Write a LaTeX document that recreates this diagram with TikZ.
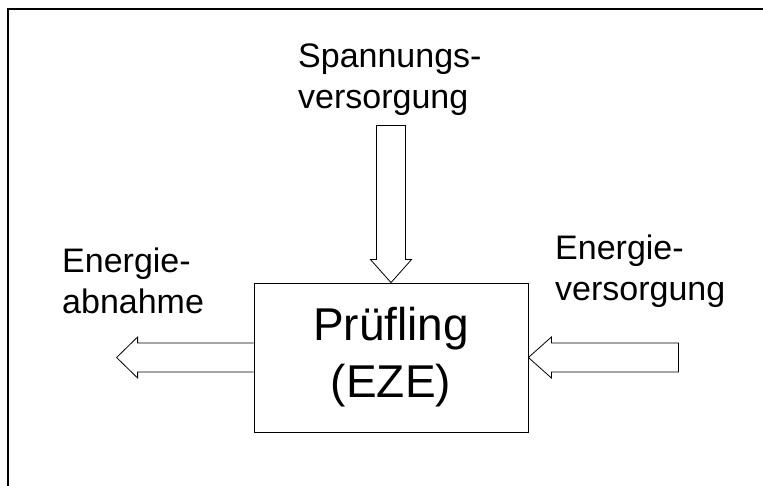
\documentclass[tikz,border=0pt]{standalone}
\usepackage{fontspec}
\setmainfont{Liberation Sans}
\usetikzlibrary{calc}

\begin{document}
\begin{tikzpicture}[x=1pt, y=-1pt]

\useasboundingbox (0,0) rectangle (763,486);

\tikzset{
  label/.style={anchor=north west, inner sep=0pt, align=left, font=\fontsize{34}{41}\selectfont},
  blockarrow/.style={draw, line width=0.8pt, line join=miter, fill=white}
}

\def\shaft{14.5}
\def\headw{20.5}

% frame
\draw [line width=1.4pt] (8,486) -- (8,9) -- (763,9);

\begin{scope}[line width=0.8pt]

\node [draw, minimum width=274pt, minimum height=149pt, align=center, inner sep=0pt,
  font=\fontsize{46}{57}\selectfont] (pruefling) at (391,357.5) {Prüfling\\(EZE)};

% Spannungsversorgung (from top)
\draw [blockarrow] (pruefling.north)
  -- ++(-\headw,-23) -- ++(\headw-\shaft,0) -- ++(0,-134)
  -- ++(2*\shaft,0) -- ++(0,134) -- ++(\headw-\shaft,0) -- cycle;

% Energieabnahme (to the left)
\draw [blockarrow] ($(pruefling.west)+(0,-\shaft)$)
  -- ++(-116,0) -- ++(0,\shaft-\headw) -- ++(-21,\headw)
  -- ++(21,\headw) -- ++(0,\shaft-\headw) -- ++(116,0);

% Energieversorgung (from the right)
\draw [blockarrow] (pruefling.east)
  -- ++(23,-\headw) -- ++(0,\headw-\shaft) -- ++(127,0)
  -- ++(0,2*\shaft) -- ++(-127,0) -- ++(0,\headw-\shaft) -- cycle;

\end{scope}

\node [label] (spannung) at (298,44) {Spannungs-\\versorgung};
\node [label] (abnahme) at (62,248) {Energie-\\abnahme};
\node [label] (versorgung) at (555,235) {Energie-\\versorgung};

\end{tikzpicture}
\end{document}
